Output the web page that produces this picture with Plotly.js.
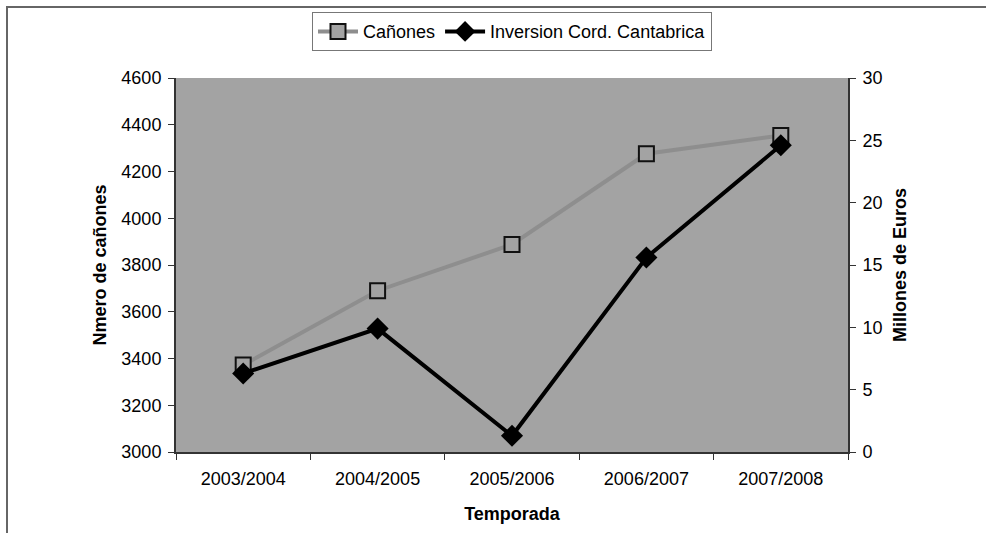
<!DOCTYPE html>
<html>
<head>
<meta charset="utf-8">
<script src="https://cdn.plot.ly/plotly-3.0.1.min.js"></script>
<style>
html,body{margin:0;padding:0;background:#fff;}
#wrap{position:relative;width:986px;height:533px;}
#chart{position:absolute;left:0;top:0;width:986px;height:533px;}
#frame{position:absolute;left:6px;top:6px;width:986px;height:540px;border-top:2px solid #666;border-left:2px solid #666;pointer-events:none;box-sizing:border-box;}
</style>
</head>
<body>
<div id="wrap"><div id="chart"></div><div id="frame"></div></div>
<script>
const temporadas = ["2003/2004", "2004/2005", "2005/2006", "2006/2007", "2007/2008"];
const canones = [3372, 3690, 3888, 4276, 4354];
const inversion = [6.3, 9.9, 1.3, 15.6, 24.6];

const traces = [
  {
    x: temporadas, y: canones, name: "Cañones", type: "scatter", mode: "lines+markers",
    line: {color: "#8e8e8e", width: 4},
    marker: {symbol: "square", size: 15, color: "#a3a3a3", line: {color: "#111", width: 2}},
    yaxis: "y"
  },
  {
    x: temporadas, y: inversion, name: "Inversion Cord. Cantabrica", type: "scatter", mode: "lines+markers",
    line: {color: "#000", width: 4},
    marker: {symbol: "diamond", size: 17, color: "#000", line: {color: "#000", width: 0}},
    yaxis: "y2"
  }
];

const fam = "Liberation Sans, Arial, sans-serif";
const layout = {
  width: 986, height: 533,
  margin: {l: 176, r: 138, t: 76, b: 81, pad: 0},
  paper_bgcolor: "#fff",
  plot_bgcolor: "#a3a3a3",
  font: {family: fam, size: 18, color: "#000"},
  showlegend: true,
  legend: {
    orientation: "h", x: 0.5, xanchor: "center", y: 1.176, yanchor: "top",
    bordercolor: "#777", borderwidth: 1, bgcolor: "#fff",
    font: {family: fam, size: 18, color: "#000"},
    itemwidth: 40, tracegroupgap: 0
  },
  xaxis: {
    type: "category", tickson: "boundaries", ticks: "outside", ticklen: 6, tickcolor: "#333",
    showline: true, linecolor: "#333", linewidth: 2, showgrid: false, zeroline: false,
    tickfont: {family: fam, size: 18, color: "#000"},
    ticklabelstandoff: 9,
    title: {text: "<b>Temporada</b>", font: {family: fam, size: 18, color: "#000"}, standoff: 20},
    range: [-0.5, 4.5]
  },
  yaxis: {
    range: [3000, 4600], dtick: 200, tickformat: "d", ticks: "outside", ticklen: 6, tickcolor: "#333",
    showline: true, linecolor: "#333", linewidth: 2, showgrid: false, zeroline: false,
    tickfont: {family: fam, size: 18, color: "#000"},
    ticklabelstandoff: 3,
    title: {text: "<b>Nmero de cañones</b>", font: {family: fam, size: 18, color: "#000"}, standoff: 10}
  },
  yaxis2: {
    range: [0, 30], dtick: 5, overlaying: "y", side: "right", ticks: "outside", ticklen: 6, tickcolor: "#333",
    showline: true, linecolor: "#333", linewidth: 2, showgrid: false, zeroline: false,
    tickfont: {family: fam, size: 18, color: "#000"},
    ticklabelstandoff: 3,
    title: {text: "<b>Millones de Euros</b>", font: {family: fam, size: 18, color: "#000"}, standoff: 12}
  }
};

Plotly.newPlot("chart", traces, layout, {staticPlot: true, displayModeBar: false});
</script>
</body>
</html>
